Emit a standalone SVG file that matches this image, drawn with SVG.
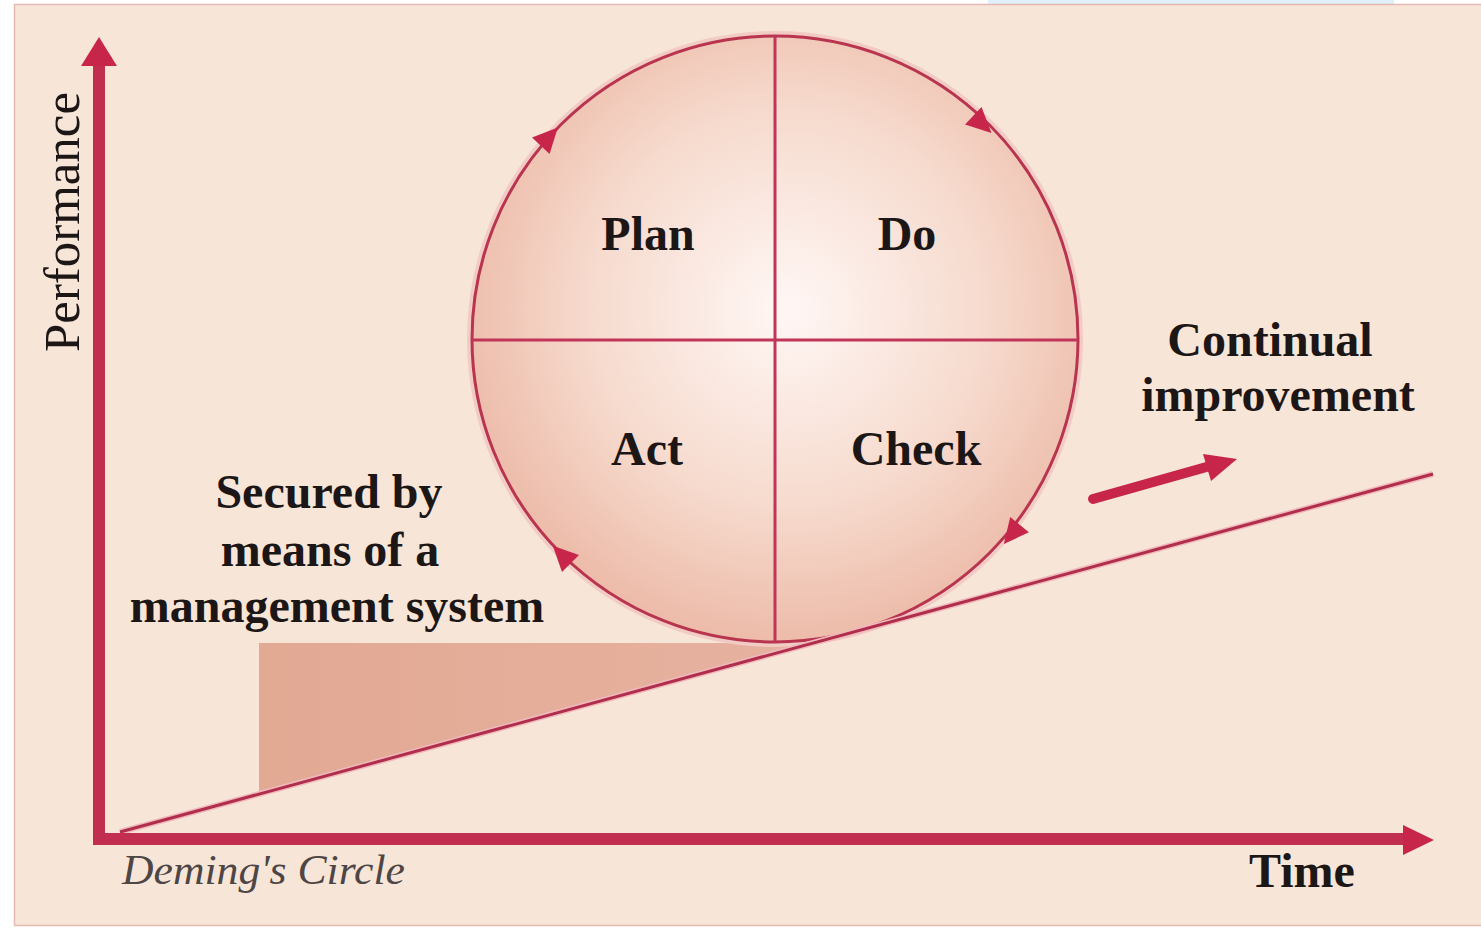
<svg xmlns="http://www.w3.org/2000/svg" xmlns:xlink="http://www.w3.org/1999/xlink" width="1481" height="930" viewBox="0 0 1481 930">
<style>
.lbl{font-family:"Liberation Serif","Times New Roman",serif;font-weight:bold;font-size:48px;fill:#1c1716;text-anchor:middle}
.axislbl{font-family:"Liberation Serif","Times New Roman",serif;font-size:50px;fill:#1c1716;text-anchor:middle}
.cap{font-family:"Liberation Serif","Times New Roman",serif;font-style:italic;font-size:42px;fill:#4d4645}
.div{stroke:#c03558;stroke-width:3;fill:none}
.axis{stroke:#c22e50;stroke-width:12;fill:none}
.red{fill:#c8254b}
</style>
<defs>
<radialGradient id="ball" cx="0.52" cy="0.45" r="0.55">
<stop offset="0" stop-color="#fff7f5"/>
<stop offset="0.6" stop-color="#f6dacd"/>
<stop offset="1" stop-color="#edbba9"/>
</radialGradient>
<linearGradient id="shade" x1="0" y1="0" x2="1" y2="0">
<stop offset="0" stop-color="#e2a993"/>
<stop offset="1" stop-color="#e6b2a0"/>
</linearGradient>
<path id="tri" d="M13 0 L-12 -12 L-12 12 Z"/>
</defs>
<rect x="0" y="0" width="1481" height="930" fill="#ffffff"/>
<rect x="988" y="0" width="406" height="5" fill="#dff0fa"/>
<rect x="14.5" y="4.5" width="1470" height="921" fill="#f7e5d8" stroke="#e6b9b3" stroke-width="1.5"/>
<g id="secured-area">
<polygon points="259,643 806,643 259,794" fill="url(#shade)"/>
</g>
<g id="cycle">
<circle cx="775" cy="339" r="305" fill="none" stroke="#f2cbc5" stroke-width="6"/>
<circle cx="775" cy="339" r="303" fill="url(#ball)" stroke="#b8344f" stroke-width="3"/>
<line class="div" x1="775" y1="37" x2="775" y2="642"/>
<line class="div" x1="472" y1="340" x2="1078" y2="340"/>
<use href="#tri" class="red" transform="translate(549,137) rotate(-47)"/>
<use href="#tri" class="red" transform="translate(982,124) rotate(43.5)"/>
<use href="#tri" class="red" transform="translate(1012,534) rotate(129)"/>
<use href="#tri" class="red" transform="translate(562,555) rotate(-135)"/>
</g>
<g id="plan"><text class="lbl" x="648" y="250">Plan</text></g>
<g id="do"><text class="lbl" x="907" y="250">Do</text></g>
<g id="act"><text class="lbl" x="647" y="465">Act</text></g>
<g id="check"><text class="lbl" x="916" y="465">Check</text></g>
<g id="connectors">
<line x1="120" y1="832" x2="1433" y2="474" stroke="#f0b9bd" stroke-width="6"/>
<line x1="120" y1="832" x2="1433" y2="474" stroke="#b02e4c" stroke-width="3"/>
<line class="axis" x1="99" y1="60" x2="99" y2="845"/>
<polygon class="red" points="99,37 117,66 81,66"/>
<line class="axis" x1="93" y1="839" x2="1408" y2="839"/>
<polygon class="red" points="1434,840 1403,825 1403,855"/>
<line x1="1093" y1="499" x2="1210" y2="466" stroke="#c8254b" stroke-width="10" stroke-linecap="round"/>
<polygon class="red" points="1237,459 1211,481 1203,454"/>
</g>
<g id="performance-label"><text class="axislbl" transform="translate(79,222) rotate(-90)" textLength="260" lengthAdjust="spacingAndGlyphs">Performance</text></g>
<g id="time-label"><text class="lbl" x="1302" y="887">Time</text></g>
<g id="continual-label">
<text class="lbl" x="1270" y="356">Continual</text>
<text class="lbl" x="1278" y="411">improvement</text>
</g>
<g id="secured-label">
<text class="lbl" x="329" y="508">Secured by</text>
<text class="lbl" x="330" y="566">means of a</text>
<text class="lbl" x="337" y="622">management system</text>
</g>
<g id="caption"><text class="cap" x="122" y="884" textLength="283" lengthAdjust="spacingAndGlyphs">Deming's Circle</text></g>
</svg>
